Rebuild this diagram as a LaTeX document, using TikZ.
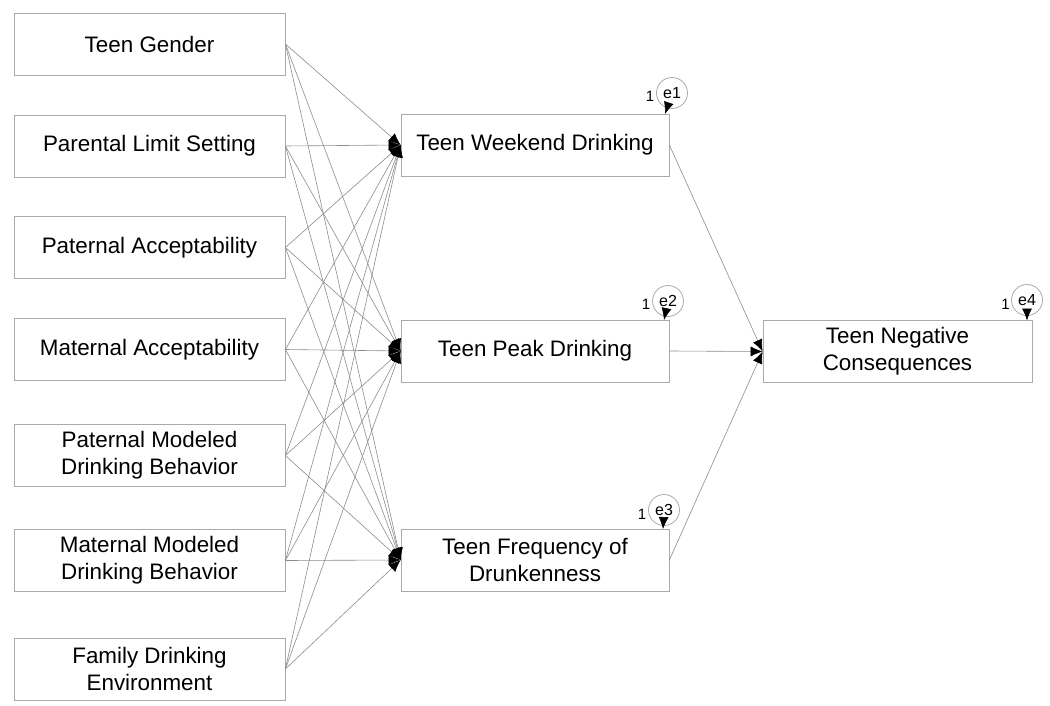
\documentclass[tikz,border=0pt]{standalone}
\usepackage{fontspec}
\setmainfont{Liberation Sans}
\usetikzlibrary{arrows.meta}
\definecolor{boxgray}{RGB}{170,170,170}
\definecolor{linegray}{RGB}{140,140,140}
\begin{document}
\begin{tikzpicture}[x=1pt,y=-1pt,
  var/.style={draw=boxgray, line width=0.8pt, rectangle, inner sep=0pt, align=center,
    font=\fontsize{22.4}{27}\selectfont},
  lbox/.style={var, minimum width=271pt, minimum height=62pt},
  mbox/.style={var, minimum width=268pt, minimum height=62pt},
  pth/.style={draw=linegray, line width=0.6pt, -{Latex[length=12pt,width=10pt,color=black]}},
  err/.style={circle, draw=boxgray, line width=0.8pt, minimum size=31pt, inner sep=0pt,
    font=\fontsize{16}{18}\selectfont},
  one/.style={font=\fontsize{15}{17}\selectfont, inner sep=0pt}
]
\useasboundingbox (0,0) rectangle (1050,706);

\node[lbox] (l1) at (149.5,44) {Teen Gender};
\node[lbox] (l2) at (149.5,146) {Parental Limit Setting};
\node[lbox] (l3) at (149.5,247.5) {Paternal Acceptability};
\node[lbox] (l4) at (149.5,349.5) {Maternal Acceptability};
\node[lbox] (l5) at (149.5,455.5) {Paternal Modeled\\Drinking Behavior};
\node[lbox] (l6) at (149.5,560.5) {Maternal Modeled\\Drinking Behavior};
\node[lbox] (l7) at (149.5,669) {Family Drinking\\Environment};

\node[mbox] (m1) at (535,145) {Teen Weekend Drinking};
\node[mbox] (m2) at (535,351) {Teen Peak Drinking};
\node[mbox] (m3) at (535,560) {Teen Frequency of\\Drunkenness};

\node[mbox, minimum width=269pt] (r) at (897.5,351.5) {Teen Negative\\Consequences};

\foreach \i in {1,...,7}{
  \foreach \j in {1,2,3}{
    \draw[pth] (l\i.east) -- (m\j.west);
  }
}
\draw[pth] (m1.east) -- (r.west);
\draw[pth] (m2.east) -- (r.west);
\draw[pth] (m3.east) -- (r.west);

\node[err] (e1) at (672,93) {e1};
\node[err] (e2) at (668,301) {e2};
\node[err] (e3) at (664,510) {e3};
\node[err] (e4) at (1027,300) {e4};
\coordinate (t1) at (665,114);
\coordinate (t2) at (664,320);
\coordinate (t3) at (663,529);
\coordinate (t4) at (1027,320.5);
\draw[pth] (e1) -- (t1);
\draw[pth] (e2) -- (t2);
\draw[pth] (e3) -- (t3);
\draw[pth] (e4) -- (t4);
\node[one] (n1) at (650,96) {1};
\node[one] (n2) at (646,304) {1};
\node[one] (n3) at (642,514) {1};
\node[one] (n4) at (1005.5,304) {1};
\end{tikzpicture}
\end{document}
